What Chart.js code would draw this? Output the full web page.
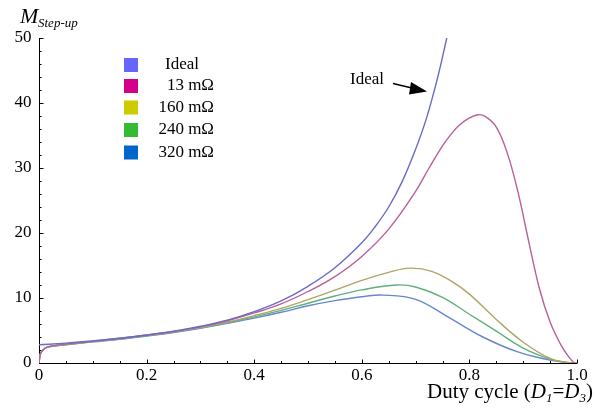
<!DOCTYPE html>
<html>
<head>
<meta charset="utf-8">
<script src="https://cdn.jsdelivr.net/npm/chart.js@4.4.1/dist/chart.umd.min.js"></script>
<style>
  html, body { margin: 0; padding: 0; background: #fff; }
</style>
</head>
<body>
<canvas id="myChart" width="594" height="408"></canvas>
<script>
// values
const idealDuty = [0, 0.05, 0.1, 0.15, 0.2, 0.25, 0.3, 0.35, 0.4, 0.45, 0.5, 0.55, 0.6, 0.625, 0.65, 0.675, 0.7, 0.72, 0.74, 0.758];
const idealGain = [2.8, 3.05, 3.4, 3.8, 4.3, 4.9, 5.65, 6.6, 7.9, 9.55, 11.8, 14.65, 18.5, 21.0, 24.0, 27.9, 32.9, 37.6, 43.6, 50.0];

const duty13 = [0, 0.003, 0.01, 0.02, 0.05, 0.1, 0.15, 0.2, 0.25, 0.3, 0.35, 0.4, 0.45, 0.5, 0.55, 0.6, 0.65, 0.7, 0.725, 0.75, 0.765, 0.78, 0.8, 0.816, 0.83, 0.85, 0.87, 0.89, 0.91, 0.93, 0.95, 0.97, 0.985, 0.995];
const gain13 = [0, 1.5, 2.2, 2.55, 2.9, 3.35, 3.8, 4.3, 4.85, 5.55, 6.5, 7.7, 9.1, 11.0, 13.3, 16.4, 20.6, 26.4, 30.0, 33.4, 35.1, 36.5, 37.7, 38.2, 37.9, 36.3, 32.4, 26.4, 18.8, 11.5, 6.3, 2.8, 0.9, 0];

const duty160 = [0, 0.003, 0.01, 0.02, 0.05, 0.1, 0.15, 0.2, 0.25, 0.3, 0.35, 0.4, 0.45, 0.5, 0.55, 0.6, 0.65, 0.69, 0.73, 0.77, 0.8, 0.85, 0.9, 0.95, 0.98, 1.0];
const gain160 = [0, 1.5, 2.2, 2.55, 2.85, 3.3, 3.75, 4.25, 4.8, 5.45, 6.3, 7.3, 8.4, 9.75, 11.2, 12.7, 13.95, 14.6, 14.1, 12.4, 10.6, 6.7, 3.2, 0.7, 0.1, 0];

const duty240 = [0, 0.003, 0.01, 0.02, 0.05, 0.1, 0.15, 0.2, 0.25, 0.3, 0.35, 0.4, 0.45, 0.5, 0.55, 0.6, 0.665, 0.7, 0.75, 0.8, 0.85, 0.9, 0.95, 0.98, 1.0];
const gain240 = [0, 1.5, 2.2, 2.55, 2.85, 3.3, 3.7, 4.2, 4.75, 5.4, 6.2, 7.1, 8.1, 9.2, 10.3, 11.25, 12.0, 11.7, 10.1, 7.5, 4.9, 2.3, 0.6, 0.1, 0];

const duty320 = [0, 0.003, 0.01, 0.02, 0.05, 0.1, 0.15, 0.2, 0.25, 0.3, 0.35, 0.4, 0.45, 0.5, 0.55, 0.6, 0.64, 0.7, 0.76, 0.825, 0.89, 0.95, 0.98, 1.0];
const gain320 = [0, 1.5, 2.2, 2.5, 2.8, 3.25, 3.65, 4.15, 4.7, 5.35, 6.1, 6.9, 7.8, 8.8, 9.6, 10.2, 10.45, 9.8, 7.1, 4.0, 1.7, 0.45, 0.1, 0];

const seriesNames = ['Ideal', '13 m\u03A9', '160 m\u03A9', '240 m\u03A9', '320 m\u03A9'];
const legendColors = ['#6666ff', '#d4008a', '#cccc00', '#33bb33', '#0066cc'];
const lineColors = ['#6a6ac8', '#b8609a', '#b0a468', '#60b07c', '#6688c8'];

const xTickLabels = ['0', '0.2', '0.4', '0.6', '0.8', '1.0'];
const yTickLabels = ['0', '10', '20', '30', '40', '50'];

const toPoints = (xs, ys) => xs.map((x, i) => ({ x: x, y: ys[i] }));
const allDuty = [idealDuty, duty13, duty160, duty240, duty320];
const allGain = [idealGain, gain13, gain160, gain240, gain320];

const serif = '"Liberation Serif", "DejaVu Serif", serif';

const axesPlugin = {
    id: 'mathAxes',
    beforeDatasetsDraw(chart) {
        const ctx = chart.ctx, xs = chart.scales.x, ys = chart.scales.y;
        const x0 = Math.round(xs.getPixelForValue(0)) + 0.5;
        const y0 = Math.round(ys.getPixelForValue(0)) + 0.5;
        ctx.save();
        ctx.strokeStyle = '#000';
        ctx.lineWidth = 1;
        ctx.beginPath();
        ctx.moveTo(x0, ys.getPixelForValue(50));
        ctx.lineTo(x0, y0);
        ctx.lineTo(xs.getPixelForValue(1), y0);
        // y ticks
        for (let v = 0; v <= 50; v += 2) {
            const py = Math.round(ys.getPixelForValue(v)) + 0.5;
            ctx.moveTo(x0, py);
            ctx.lineTo(x0 + (v % 10 === 0 ? 4 : 2), py);
        }
        // x ticks
        for (let i = 0; i <= 20; i++) {
            const px = Math.round(xs.getPixelForValue(i * 0.05)) + 0.5;
            ctx.moveTo(px, y0);
            ctx.lineTo(px, y0 - (i % 4 === 0 ? 4 : 2.5));
        }
        ctx.stroke();

        ctx.fillStyle = '#000';
        ctx.font = '17px ' + serif;
        ctx.textAlign = 'right';
        ctx.textBaseline = 'middle';
        yTickLabels.forEach((t, i) => {
            ctx.fillText(t, x0 - 8, ys.getPixelForValue(i * 10));
        });
        ctx.textAlign = 'center';
        ctx.textBaseline = 'top';
        xTickLabels.forEach((t, i) => {
            ctx.fillText(t, xs.getPixelForValue(i * 0.2), y0 + 4);
        });
        ctx.restore();
    },
    afterDraw(chart) {
        const ctx = chart.ctx;
        ctx.save();
        ctx.fillStyle = '#000';
        ctx.textBaseline = 'alphabetic';
        ctx.textAlign = 'left';

        // y axis title
        ctx.font = 'italic 22px ' + serif;
        ctx.fillText('M', 20, 23);
        ctx.font = 'italic 13px ' + serif;
        ctx.fillText('Step-up', 38, 27);

        // x axis title, right aligned
        const parts = [
            ['Duty cycle (', '21px', 0],
            ['D', 'italic 21px', 0],
            ['1', 'italic 13px', 4],
            ['=', '21px', 0],
            ['D', 'italic 21px', 0],
            ['3', 'italic 13px', 4],
            [')', '21px', 0]
        ];
        let w = 0;
        parts.forEach(p => { ctx.font = p[1] + ' ' + serif; w += ctx.measureText(p[0]).width; });
        let px = 593 - w;
        parts.forEach(p => {
            ctx.font = p[1] + ' ' + serif;
            ctx.fillText(p[0], px, 398 + p[2]);
            px += ctx.measureText(p[0]).width;
        });

        // legend
        const rowY = [65, 86, 107.5, 130, 152.5];
        ctx.font = '17px ' + serif;
        ctx.textBaseline = 'middle';
        seriesNames.forEach((name, i) => {
            ctx.fillStyle = legendColors[i];
            ctx.fillRect(124, rowY[i] - 7, 14, 14);
            ctx.fillStyle = '#000';
            if (i === 0) {
                ctx.textAlign = 'left';
                ctx.fillText(name, 165, rowY[i]);
            } else {
                ctx.textAlign = 'right';
                ctx.fillText(name, 214, rowY[i]);
            }
        });

        // "Ideal" annotation with arrow
        ctx.textAlign = 'left';
        ctx.fillText('Ideal', 350, 80);
        ctx.strokeStyle = '#000';
        ctx.lineWidth = 1.3;
        ctx.beginPath();
        ctx.moveTo(393, 83.5);
        ctx.lineTo(414, 88.5);
        ctx.stroke();
        ctx.beginPath();
        ctx.moveTo(427, 91.5);
        ctx.lineTo(411, 82);
        ctx.lineTo(409, 94.5);
        ctx.closePath();
        ctx.fill();
        ctx.restore();
    }
};

const data = {
    datasets: seriesNames.map((name, i) => ({
        label: name,
        data: toPoints(allDuty[i], allGain[i]),
        borderColor: lineColors[i],
        backgroundColor: legendColors[i],
        borderWidth: 1.4,
        pointRadius: 0,
        fill: false,
        tension: 0.4
    }))
};

const config = {
    type: 'line',
    data: data,
    options: {
        responsive: false,
        animation: false,
        layout: { padding: { left: 39, top: 38, right: 17, bottom: 45 } },
        plugins: { legend: { display: false }, tooltip: { enabled: false } },
        scales: {
            x: { type: 'linear', min: 0, max: 1, display: false },
            y: { type: 'linear', min: 0, max: 50, display: false }
        }
    },
    plugins: [axesPlugin]
};

// eslint-disable-next-line
const myChart = new Chart(document.getElementById('myChart'), config);
</script>
</body>
</html>
